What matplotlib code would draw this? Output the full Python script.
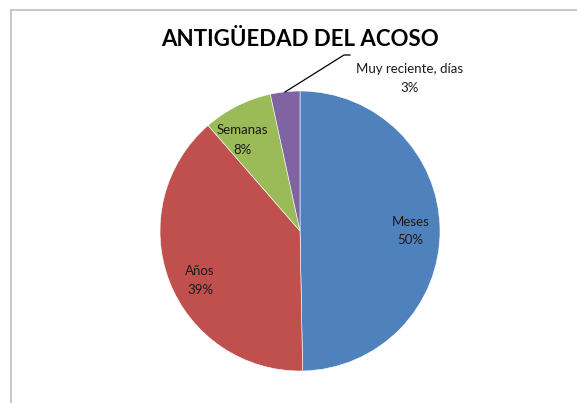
import matplotlib
matplotlib.use("Agg")
import matplotlib.pyplot as plt
from matplotlib.lines import Line2D

categories = ["Meses", "Años", "Semanas", "Muy reciente, días"]
values = [49.7, 38.9, 8.0, 3.4]
pct_labels = ["50%", "39%", "8%", "3%"]
colors = ["#4F81BD", "#C0504D", "#9BBB59", "#8064A2"]

W, H = 577, 403
fig = plt.figure(figsize=(W / 100, H / 100), dpi=100)
fig.patch.set_facecolor("white")

cx, cy, R = 300, 231, 140
ax = fig.add_axes([(cx - R) / W, (H - cy - R) / H, 2 * R / W, 2 * R / H])
wedges, _ = ax.pie(values, colors=colors, startangle=90, counterclock=False,
                   radius=1, wedgeprops=dict(edgecolor="white", linewidth=0.4))
ax.set_xlim(-1, 1)
ax.set_ylim(-1, 1)
ax.axis("off")

font = "Lato"
label_pos = [(0.79, 0.0), (-0.714, -0.357), (-0.414, 0.65), (0.786, 1.086)]
for cat, pct, (x, y) in zip(categories, pct_labels, label_pos):
    ax.text(x, y, f"{cat}\n{pct}", ha="center", va="center", fontsize=9.5,
            family=font, color="#1a1a1a", linespacing=1.7, clip_on=False)

# leader line for the small slice
ax.add_line(Line2D([-0.107, 0.314, 0.357], [0.993, 1.257, 1.257],
                   color="black", linewidth=0.9, clip_on=False))

fig.text(300 / W, 1 - 40 / H, "ANTIGÜEDAD DEL ACOSO", ha="center", va="center",
         fontsize=16, fontweight="bold", family=font, color="black")

# chart frame (left and top edges)
fig.add_artist(Line2D([10.5 / W, 10.5 / W], [0, 1 - 9.5 / H], transform=fig.transFigure,
                      color="#BDBDBD", linewidth=1.2))
fig.add_artist(Line2D([10.5 / W, 1], [1 - 9.5 / H, 1 - 9.5 / H], transform=fig.transFigure,
                      color="#BDBDBD", linewidth=1.2))

fig.savefig("out.png", dpi=100)
